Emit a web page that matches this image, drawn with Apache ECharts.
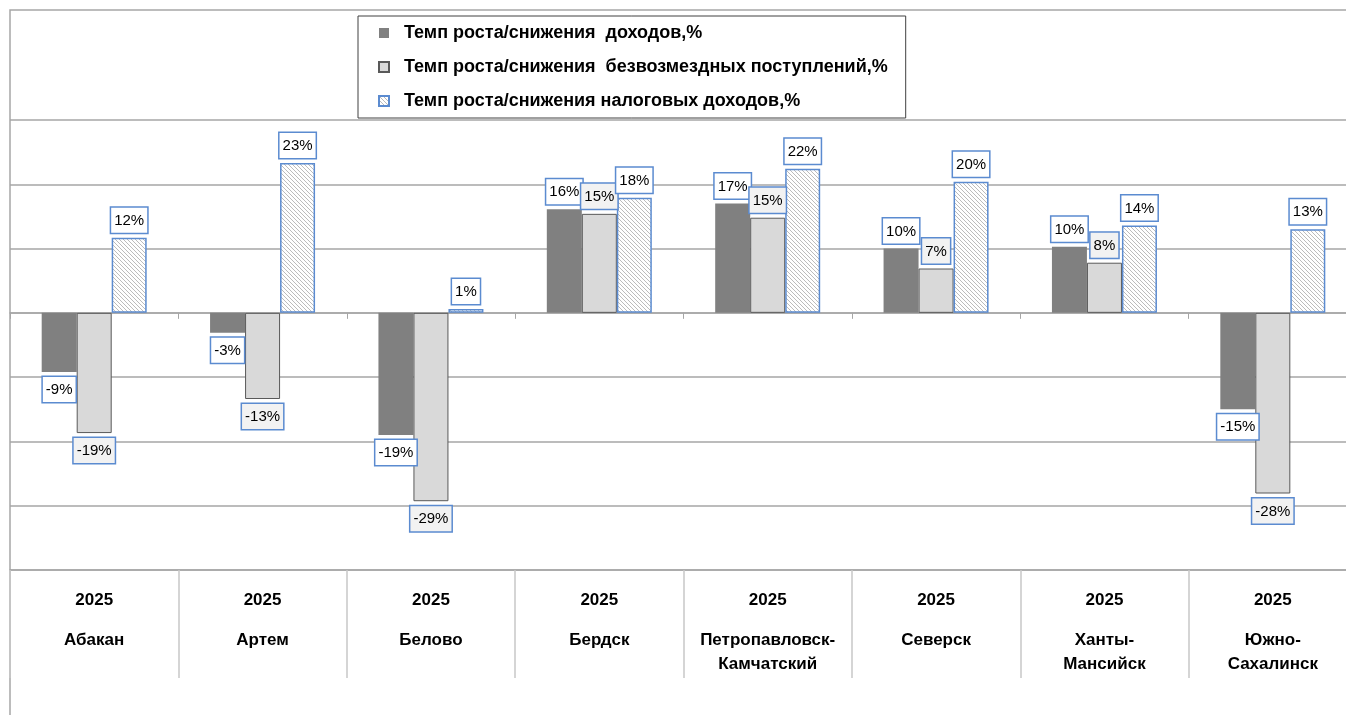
<!DOCTYPE html>
<html>
<head>
<meta charset="utf-8">
<script src="https://cdn.jsdelivr.net/npm/echarts@6/dist/echarts.min.js"></script>
<style>
	html, body { margin: 0; padding: 0; background: #fff; overflow: hidden; }
	#draw { width: 1357px; height: 715px; }
</style>
</head>
<body>
<div id="draw"></div>
<script>
	// данные
	var years = ['2025', '2025', '2025', '2025', '2025', '2025', '2025', '2025'];
	var cities = ['Абакан', 'Артем', 'Белово', 'Бердск', 'Петропавловск-\nКамчатский', 'Северск', 'Ханты-\nМансийск', 'Южно-\nСахалинск'];
	var seriesNames = [
		'Темп роста/снижения  доходов,%',
		'Темп роста/снижения  безвозмездных поступлений,%',
		'Темп роста/снижения налоговых доходов,%'
	];
	var incomeRate = [-9.2, -3.1, -19.0, 16.1, 17.0, 10.0, 10.3, -15.0];
	var grantsRate = [-18.7, -13.4, -29.3, 15.4, 14.8, 6.9, 7.8, -28.1];
	var taxRate = [11.7, 23.3, 0.6, 17.9, 22.4, 20.4, 13.6, 13.0];
	var yTicks = { min: -40, max: 30, step: 10 };

	var categories = years.map(function (y, i) { return y + '|' + cities[i]; });

	// штриховка для налоговых доходов
	var hatch = document.createElement('canvas');
	hatch.width = 4;
	hatch.height = 4;
	var hctx = hatch.getContext('2d');
	hctx.fillStyle = '#ffffff';
	hctx.fillRect(0, 0, 4, 4);
	hctx.fillStyle = '#bcbcbc';
	for (var k = 0; k < 4; k++) {
		hctx.fillRect(k, k, 1, 1);
	}

	var blue = '#5b8bd0';
	var font = '"Liberation Sans", Arial, sans-serif';

	function withLabels(values, bg) {
		return values.map(function (v) {
			return {
				value: v,
				label: {
					show: true,
					position: v >= 0 ? 'top' : 'bottom',
					distance: 5,
					formatter: function (p) { return Math.round(p.value) + '%'; },
					fontFamily: font,
					fontSize: 15,
					lineHeight: 18,
					color: '#000',
					backgroundColor: bg,
					borderColor: blue,
					borderWidth: 1.5,
					padding: [4, 3, 3, 3]
				}
			};
		});
	}

	var myChart = echarts.init(document.getElementById('draw'));
	myChart.setOption({
		animation: false,
		backgroundColor: '#fff',
		graphic: [{
			type: 'rect',
			silent: true,
			z: 0,
			shape: { x: 10, y: 10, width: 1400, height: 800 },
			style: { fill: 'none', stroke: '#a6a6a6', lineWidth: 1.5 }
		}],
		grid: {
			left: 10,
			top: 120,
			right: 0,
			height: 450
		},
		legend: {
			orient: 'vertical',
			left: 358,
			top: 16,
			padding: [7, 18, 7, 20],
			itemGap: 14,
			itemWidth: 10,
			itemHeight: 10,
			icon: 'rect',
			backgroundColor: '#fff',
			borderColor: '#404040',
			borderWidth: 1,
			data: seriesNames,
			formatter: function (name) { return '  ' + name; },
			textStyle: {
				fontFamily: font,
				fontWeight: 'bold',
				fontSize: 18,
				lineHeight: 20,
				color: '#000'
			}
		},
		xAxis: [{
			type: 'category',
			data: categories,
			axisLine: { show: true, onZero: true, lineStyle: { color: '#a6a6a6', width: 1.5 } },
			axisTick: { show: true, length: 6, lineStyle: { color: '#a6a6a6' } },
			axisLabel: { show: false }
		}, {
			type: 'category',
			data: categories,
			position: 'bottom',
			axisLine: { show: true, onZero: false, lineStyle: { color: '#a6a6a6', width: 1.5 } },
			axisTick: { show: true, interval: 0, length: 108, lineStyle: { color: '#c8c8c8', width: 1.5 } },
			axisLabel: {
				interval: 0,
				margin: 2,
				formatter: function (v) {
					var parts = v.split('|');
					return '{y|' + parts[0] + '}\n{c|' + parts[1] + '}';
				},
				rich: {
					y: { fontFamily: font, fontWeight: 'bold', fontSize: 17, lineHeight: 56, color: '#000' },
					c: { fontFamily: font, fontWeight: 'bold', fontSize: 17, lineHeight: 24, color: '#000' }
				}
			}
		}],
		yAxis: {
			type: 'value',
			min: yTicks.min,
			max: yTicks.max,
			interval: yTicks.step,
			axisLine: { show: false },
			axisTick: { show: false },
			axisLabel: { show: false },
			splitLine: { lineStyle: { color: '#a6a6a6', width: 1.5 } }
		},
		series: [{
			name: seriesNames[0],
			type: 'bar',
			barWidth: 35,
			barGap: '0%',
			itemStyle: { color: '#808080' },
			data: withLabels(incomeRate, '#ffffff')
		}, {
			name: seriesNames[1],
			type: 'bar',
			barWidth: 35,
			barGap: '0%',
			itemStyle: { color: '#d9d9d9', borderColor: '#595959', borderWidth: 1 },
			data: withLabels(grantsRate, '#f2f2f2')
		}, {
			name: seriesNames[2],
			type: 'bar',
			barWidth: 35,
			barGap: '0%',
			itemStyle: { color: { image: hatch, repeat: 'repeat' }, borderColor: blue, borderWidth: 1.5 },
			data: withLabels(taxRate, '#ffffff')
		}]
	});
</script>
</body>
</html>
